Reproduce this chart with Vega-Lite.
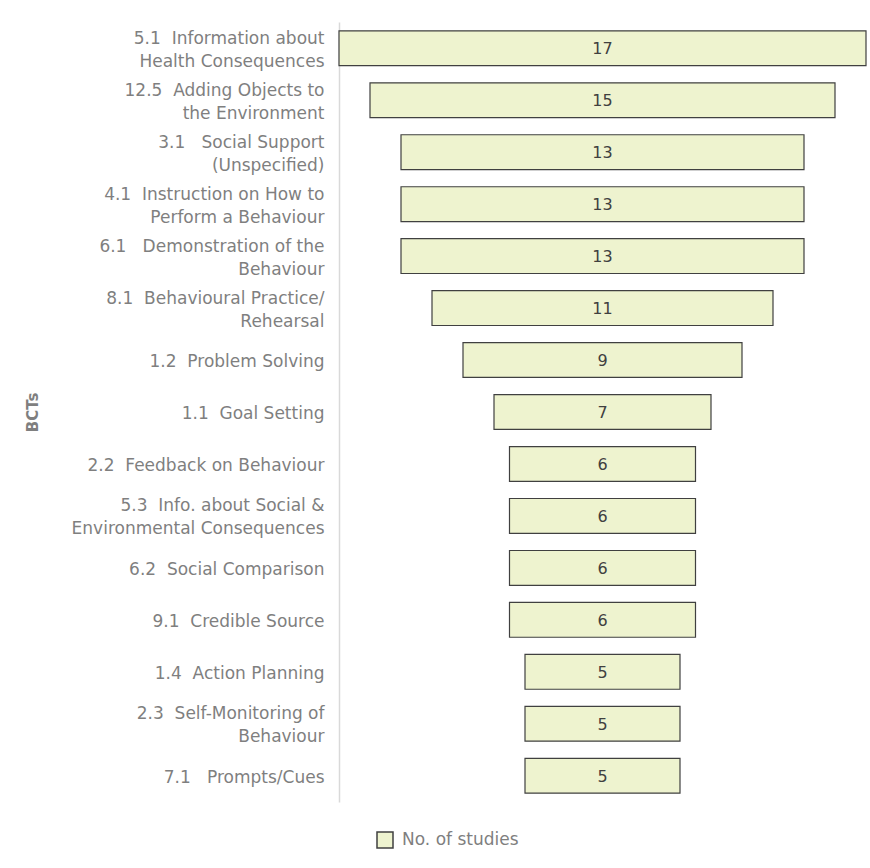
{
  "$schema": "https://vega.github.io/schema/vega-lite/v6.json",
  "autosize": "none",
  "width": 527,
  "height": 780,
  "padding": {"left": 339, "top": 22, "right": 4, "bottom": 66},
  "background": "white",
  "config": {"view": {"stroke": null}},
  "data": {
    "values": [
      {"bct": "5.1\u00a0 Information about|Health Consequences", "n": 17},
      {"bct": "12.5\u00a0 Adding Objects to|the Environment", "n": 15},
      {"bct": "3.1\u00a0\u00a0 Social Support|(Unspecified)", "n": 13},
      {"bct": "4.1\u00a0 Instruction on How to|Perform a Behaviour", "n": 13},
      {"bct": "6.1\u00a0\u00a0 Demonstration of the|Behaviour", "n": 13},
      {"bct": "8.1\u00a0 Behavioural Practice/|Rehearsal", "n": 11},
      {"bct": "1.2\u00a0 Problem Solving", "n": 9},
      {"bct": "1.1\u00a0 Goal Setting", "n": 7},
      {"bct": "2.2\u00a0 Feedback on Behaviour", "n": 6},
      {"bct": "5.3\u00a0 Info. about Social &|Environmental Consequences", "n": 6},
      {"bct": "6.2\u00a0 Social Comparison", "n": 6},
      {"bct": "9.1\u00a0 Credible Source", "n": 6},
      {"bct": "1.4\u00a0 Action Planning", "n": 5},
      {"bct": "2.3\u00a0 Self-Monitoring of|Behaviour", "n": 5},
      {"bct": "7.1\u00a0\u00a0 Prompts/Cues", "n": 5}
    ]
  },
  "encoding": {
    "y": {
      "field": "bct",
      "type": "nominal",
      "sort": null,
      "scale": {"paddingInner": 0.33, "paddingOuter": 0.17},
      "axis": {
        "title": "BCTs",
        "titleFont": "DejaVu Sans",
        "titleFontSize": 15,
        "titleFontWeight": "bold",
        "titleColor": "#7f7f7f",
        "titleX": -299,
        "titleY": 390,
        "labelExpr": "split(datum.label, '|')",
        "labelFont": "DejaVu Sans",
        "labelFontSize": 17,
        "labelColor": "#7f7f7f",
        "labelLineHeight": 23,
        "labelOffset": {"condition": {"test": "indexof(datum.value, '|') >= 0", "value": -9.5}, "value": 2},
        "labelPadding": 15,
        "labelLimit": 400,
        "ticks": false,
        "domainColor": "#d9d9d9",
        "domainWidth": 1.5
      }
    }
  },
  "layer": [
    {
      "mark": {"type": "bar", "stroke": "#404040", "strokeWidth": 1.2},
      "encoding": {
        "x": {"field": "n", "type": "quantitative", "stack": "center", "scale": {"domain": [0, 17], "nice": false, "zero": false}, "axis": null},
        "color": {
          "datum": "No. of studies",
          "type": "nominal",
          "scale": {"range": ["#EEF3CF"]},
          "legend": {
            "title": null,
            "orient": "none",
            "legendX": 37,
            "legendY": 809,
            "padding": 0,
            "symbolType": "square",
            "symbolSize": 256,
            "symbolStrokeColor": "#404040",
            "symbolStrokeWidth": 1.5,
            "symbolFillColor": "#EEF3CF",
            "labelFont": "DejaVu Sans",
            "labelFontSize": 17,
            "labelColor": "#7f7f7f",
            "labelOffset": 8
          }
        }
      }
    },
    {
      "mark": {"type": "text", "font": "DejaVu Sans", "fontSize": 16, "color": "#404040", "dy": 1},
      "encoding": {
        "x": {"datum": 8.5, "type": "quantitative"},
        "text": {"field": "n", "type": "quantitative"}
      }
    }
  ]
}
